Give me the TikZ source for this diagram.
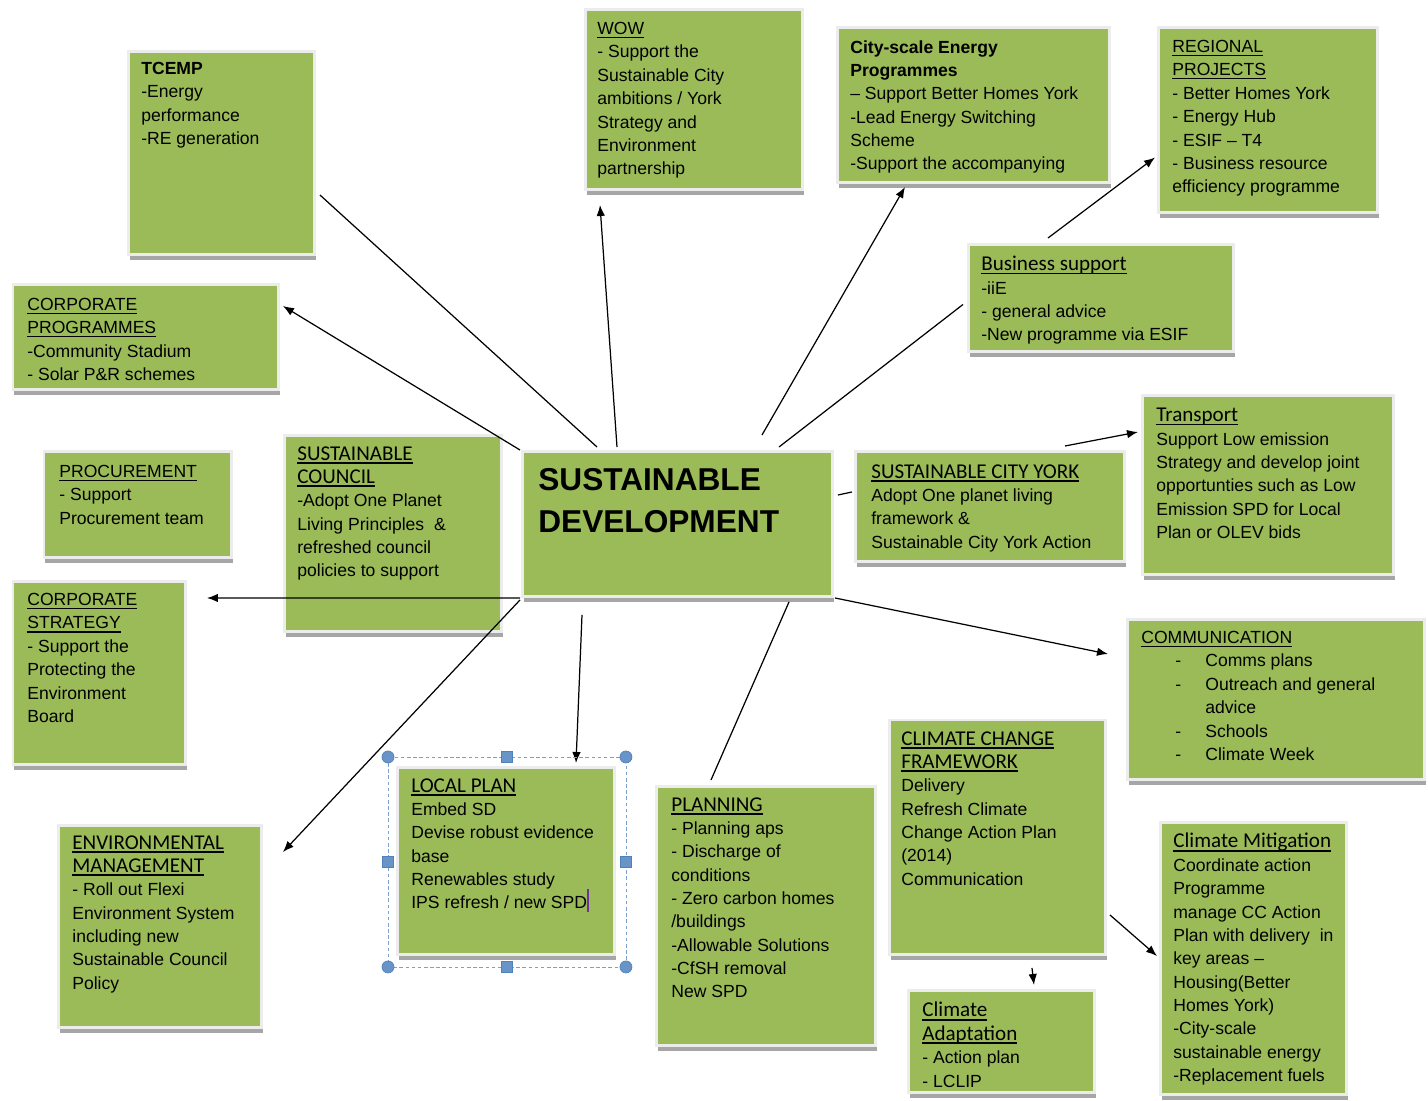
\documentclass[tikz,border=0pt]{standalone}
\usepackage{fontspec}
\setmainfont{Liberation Sans}
\newfontfamily\calibrifont{Carlito}
\usetikzlibrary{arrows.meta,shadows,calc}
\definecolor{boxgreen}{RGB}{155,187,89}
\definecolor{boxedge}{RGB}{236,236,236}
\definecolor{selblue}{RGB}{79,129,189}
\definecolor{cursorpurple}{RGB}{112,48,160}
\tikzstyle{greenbox}=[rectangle, draw=boxedge, line width=0.06cm, fill=boxgreen, inner sep=0pt, outer sep=0pt, anchor=north west, drop shadow={shadow xshift=0.03cm, shadow yshift=-0.1cm, fill=black!35, opacity=1}]
\tikzstyle{boxtext}=[anchor=north west, inner sep=0pt, align=left, font=\fontsize{10}{13.3}\selectfont]
\tikzstyle{link}=[draw, line width=0.7pt]
\tikzstyle{linkarrow}=[draw, line width=0.7pt, -{Latex[length=2.2mm, width=1.7mm]}]
\tikzstyle{selframe}=[draw=selblue!75, line width=0.5pt, dash pattern=on 2pt off 1.5pt]
\tikzstyle{selcorner}=[circle, draw=selblue, fill=selblue!85, minimum size=0.24cm, inner sep=0pt]
\tikzstyle{selside}=[rectangle, draw=selblue, fill=selblue!85, minimum size=0.22cm, inner sep=0pt]
\newcommand{\hd}[1]{{\setbox0\hbox{#1}\rlap{\rule[-2pt]{\wd0}{0.9pt}}\box0}}
\newcommand{\chd}[1]{{\calibrifont\fontsize{12}{13.3}\selectfont\hd{#1}}}

\begin{document}
\begin{tikzpicture}[x=0.02cm, y=-0.02cm]
      %
      \useasboundingbox (0,0) rectangle (1428,1101);
      %
      % centre
      %
      \node[greenbox, minimum width=6.22cm, minimum height=2.90cm] (sd) at (522,452) {};
      \node[boxtext, font=\fontsize{18}{24}\selectfont\bfseries] (sdtext) at ([shift={(16,16)}]sd.north west) {SUSTAINABLE\\DEVELOPMENT};
      %
      % top row
      %
      \node[greenbox, minimum width=3.74cm, minimum height=4.06cm] (tcemp) at (128,52) {};
      \node[boxtext] (tcemptext) at ([shift={(13,10)}]tcemp.north west) {\textbf{TCEMP}\\-Energy\\performance\\-RE generation};
      \node[greenbox, minimum width=4.36cm, minimum height=3.60cm] (wow) at (585,10) {};
      \node[boxtext] (wowtext) at ([shift={(12,12)}]wow.north west) {\hd{WOW}\\- Support the\\Sustainable City\\ambitions / York\\Strategy and\\Environment\\partnership};
      \node[greenbox, minimum width=5.46cm, minimum height=3.10cm] (city) at (837,28) {};
      \node[boxtext] (citytext) at ([shift={(13,12)}]city.north west) {\textbf{City-scale Energy}\\\textbf{Programmes}\\– Support Better Homes York\\-Lead Energy Switching\\Scheme\\-Support the accompanying};
      \node[greenbox, minimum width=4.40cm, minimum height=3.70cm] (reg) at (1158,28) {};
      \node[boxtext] (regtext) at ([shift={(14,12)}]reg.north west) {\hd{REGIONAL}\\\hd{PROJECTS}\\- Better Homes York\\- Energy Hub\\- ESIF – T4\\- Business resource\\efficiency programme};
      %
      % left column
      %
      \node[greenbox, minimum width=5.32cm, minimum height=2.10cm] (cp) at (13,285) {};
      \node[boxtext] (cptext) at ([shift={(14,13)}]cp.north west) {\hd{CORPORATE}\\\hd{PROGRAMMES}\\-Community Stadium\\- Solar P\&R schemes};
      \node[greenbox, minimum width=3.76cm, minimum height=2.12cm] (proc) at (44,452) {};
      \node[boxtext] (proctext) at ([shift={(15,13)}]proc.north west) {\hd{PROCUREMENT}\\- Support\\Procurement team};
      \node[greenbox, minimum width=3.46cm, minimum height=3.66cm] (cs) at (13,582) {};
      \node[boxtext] (cstext) at ([shift={(14,11)}]cs.north west) {\hd{CORPORATE}\\\hd{STRATEGY}\\- Support the\\Protecting the\\Environment\\Board};
      \node[greenbox, minimum width=4.08cm, minimum height=4.06cm] (env) at (58,825) {};
      \node[boxtext] (envtext) at ([shift={(14,10)}]env.north west) {\chd{ENVIRONMENTAL}\\\chd{MANAGEMENT}\\- Roll out Flexi\\Environment System\\including new\\Sustainable Council\\Policy};
      \node[greenbox, minimum width=4.36cm, minimum height=3.92cm] (sc) at (284,436) {};
      \node[boxtext] (sctext) at ([shift={(13,10)}]sc.north west) {\chd{SUSTAINABLE}\\\chd{COUNCIL}\\-Adopt One Planet\\Living Principles~ \&\\refreshed council\\policies to support};
      %
      % right side
      %
      \node[greenbox, minimum width=5.32cm, minimum height=2.14cm] (bs) at (968,245) {};
      \node[boxtext] (bstext) at ([shift={(13,11)}]bs.north west) {\chd{Business support}\\-iiE\\- general advice\\-New programme via ESIF};
      \node[greenbox, minimum width=5.40cm, minimum height=2.20cm] (scy) at (855,452) {};
      \node[boxtext] (scytext) at ([shift={(16,12)}]scy.north west) {\chd{SUSTAINABLE CITY YORK}\\Adopt One planet living\\framework \&\\Sustainable City York Action};
      \node[greenbox, minimum width=5.04cm, minimum height=3.58cm] (tr) at (1142,396) {};
      \node[boxtext] (trtext) at ([shift={(14,12)}]tr.north west) {\chd{Transport}\\Support Low emission\\Strategy and develop joint\\opportunties such as Low\\Emission SPD for Local\\Plan or OLEV bids};
      \node[greenbox, minimum width=5.96cm, minimum height=3.20cm] (comm) at (1127,620) {};
      \node[boxtext] (commtext) at ([shift={(14,11)}]comm.north west) {\hd{COMMUNICATION}\\
        \hspace*{0.68cm}\makebox[0.6cm][l]{-}Comms plans\\
        \hspace*{0.68cm}\makebox[0.6cm][l]{-}Outreach and general\\
        \hspace*{1.28cm}advice\\
        \hspace*{0.68cm}\makebox[0.6cm][l]{-}Schools\\
        \hspace*{0.68cm}\makebox[0.6cm][l]{-}Climate Week};
      %
      % bottom row
      %
      \node[greenbox, minimum width=4.36cm, minimum height=3.76cm] (lp) at (397,767) {};
      \node[boxtext] (lptext) at ([shift={(14,11)}]lp.north west) {\chd{LOCAL PLAN}\\Embed SD\\Devise robust evidence\\base\\Renewables study\\IPS refresh / new SPD\textcolor{cursorpurple}{\rule[-0.3ex]{1pt}{2.4ex}}};
      \node[greenbox, minimum width=4.40cm, minimum height=5.20cm] (pl) at (656,786) {};
      \node[boxtext] (pltext) at ([shift={(15,11)}]pl.north west) {\chd{PLANNING}\\- Planning aps\\- Discharge of\\conditions\\- Zero carbon homes\\/buildings\\-Allowable Solutions\\-CfSH removal\\New SPD};
      \node[greenbox, minimum width=4.34cm, minimum height=4.70cm] (ccf) at (889,720) {};
      \node[boxtext] (ccftext) at ([shift={(12,11)}]ccf.north west) {\chd{CLIMATE CHANGE}\\\chd{FRAMEWORK}\\Delivery\\Refresh Climate\\Change Action Plan\\(2014)\\Communication};
      \node[greenbox, minimum width=3.74cm, minimum height=2.06cm] (ca) at (908,990) {};
      \node[boxtext] (catext) at ([shift={(14,12)}]ca.north west) {\chd{Climate}\\\chd{Adaptation}\\- Action plan\\- LCLIP};
      \node[greenbox, minimum width=3.74cm, minimum height=5.46cm] (cm) at (1160,822) {};
      \node[boxtext] (cmtext) at ([shift={(13,11)}]cm.north west) {\chd{Climate Mitigation}\\Coordinate action\\Programme\\manage CC Action\\Plan with delivery~ in\\key areas –\\Housing(Better\\Homes York)\\-City-scale\\sustainable energy\\-Replacement fuels};
      %
      % Sustainable Development --> top boxes
      %
      \path [link] ([shift={(75,-5)}]sd.north west) -- ([shift={(5,143)}]tcemp.north east);
      \path [linkarrow] ([shift={(-2,-2)}]sd.north west) -- ([shift={(4,21)}]cp.north east);
      \path [linkarrow] ([shift={(95,-5)}]sd.north west) -- ([shift={(15,15)}]wow.south west);
      \path [linkarrow] ([shift={(240,-17)}]sd.north west) -- ([shift={(68,4)}]city.south west);
      \path [link] ([shift={(257,-5)}]sd.north west) -- ([shift={(-5,6)}]bs.west);
      \path [linkarrow] ([shift={(80,-7)}]bs.north west) -- ([shift={(-3,37)}]reg.west);
      %
      % Sustainable Development --> right boxes
      %
      \path [link] ([shift={(5,43)}]sd.north east) -- ([shift={(-3,40)}]scy.north west);
      \path [linkarrow] ([shift={(210,-6)}]scy.north west) -- ([shift={(-4,36)}]tr.north west);
      \path [linkarrow] ([shift={(2,1)}]sd.south east) -- ([shift={(-19,34)}]comm.north west);
      %
      % Sustainable Development --> left and bottom boxes
      %
      \path [linkarrow] ([shift={(-2,1)}]sd.south west) -- ([shift={(21,16)}]cs.north east);
      \path [linkarrow] ([shift={(-2,3)}]sd.south west) -- ([shift={(21,27)}]env.north east);
      \path [linkarrow] ([shift={(60,18)}]sd.south west) -- ([shift={(179,-4)}]lp.north west);
      \path [link] ([shift={(267,5)}]sd.south west) -- ([shift={(55,-6)}]pl.north west);
      %
      % Climate Change Framework --> Adaptation / Mitigation
      %
      \path [linkarrow] ([shift={(143,13)}]ccf.south west) -- ([shift={(126,-5)}]ca.north west);
      \path [linkarrow] ([shift={(4,-40)}]ccf.south east) -- ([shift={(-3,134)}]cm.north west);
      %
      % selection frame round Local Plan
      %
      \coordinate (selnw) at ([shift={(-9,-10)}]lp.north west);
      \coordinate (selse) at ([shift={(11,12)}]lp.south east);
      \draw [selframe] (selnw) rectangle (selse);
      \node[selcorner] (selc1) at (selnw) {};
      \node[selcorner] (selc2) at (selnw -| selse) {};
      \node[selcorner] (selc3) at (selse) {};
      \node[selcorner] (selc4) at (selse -| selnw) {};
      \node[selside] (sels1) at ($(selnw)!0.5!(selnw -| selse)$) {};
      \node[selside] (sels2) at ($(selse)!0.5!(selse -| selnw)$) {};
      \node[selside] (sels3) at ($(selnw)!0.5!(selse -| selnw)$) {};
      \node[selside] (sels4) at ($(selse)!0.5!(selnw -| selse)$) {};
      %
\end{tikzpicture}
\end{document}
